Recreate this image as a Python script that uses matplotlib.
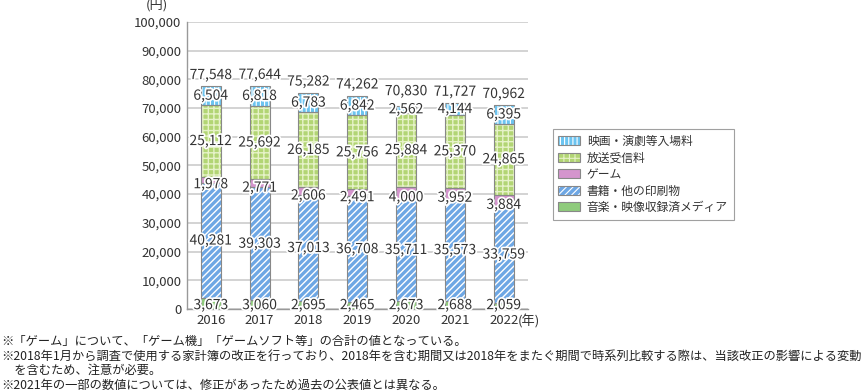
import numpy as np
import matplotlib
matplotlib.use("Agg")
import matplotlib.pyplot as plt
import matplotlib.patheffects as pe
from matplotlib.patches import Patch
from matplotlib.legend_handler import HandlerTuple

plt.rcParams['font.family'] = ['Noto Sans CJK JP', 'DejaVu Sans']

years = ['2016', '2017', '2018', '2019', '2020', '2021', '2022']
music = [3673, 3060, 2695, 2465, 2673, 2688, 2059]
books = [40281, 39303, 37013, 36708, 35711, 35573, 33759]
game = [1978, 2771, 2606, 2491, 4000, 3952, 3884]
broadcast = [25112, 25692, 26185, 25756, 25884, 25370, 24865]
movie = [6504, 6818, 6783, 6842, 2562, 4144, 6395]
totals = [77548, 77644, 75282, 74262, 70830, 71727, 70962]

names = ['音楽・映像収録済メディア', '書籍・他の印刷物', 'ゲーム', '放送受信料', '映画・演劇等入場料']
series = [music, books, game, broadcast, movie]
# face colour, hatch colour, hatch, hatch linewidth
styles = [('#8fcb7c', '#8fcb7c', None, 1.0),
          ('#6ea7e4', '#ffffff', '/////', 1.0),
          ('#d495cd', '#d495cd', None, 1.0),
          ('#b2d574', '#e6f2c8', '+++', 1.0),
          ('#6cc4f0', '#ffffff', '||||', 0.8)]

fig = plt.figure(figsize=(8.65, 3.92), dpi=100)
ax = fig.add_axes([0.216, 0.212, 0.394, 0.732])

x = np.arange(len(years))
w = 0.41
bottom = np.zeros(len(years))
handles = []
for name, vals, (fc, hc, hatch, hlw) in zip(names, series, styles):
    plt.rcParams['hatch.linewidth'] = hlw
    vals = np.array(vals)
    ax.bar(x, vals, w, bottom=bottom, color=fc, edgecolor=hc, hatch=hatch,
           linewidth=0, zorder=3)
    ax.bar(x, vals, w, bottom=bottom, fill=False, edgecolor='#888888',
           linewidth=0.8, zorder=4)
    handles.append((Patch(facecolor=fc, edgecolor=hc, hatch=hatch, linewidth=0),
                    Patch(fill=False, edgecolor='#888888', linewidth=0.8)))
    bottom = bottom + vals

stroke = [pe.withStroke(linewidth=2.5, foreground='white')]

# segment labels
bottom = np.zeros(len(years))
for k, vals in enumerate(series):
    for i, v in enumerate(vals):
        y = bottom[i] + v / 2
        if k == 0:
            y = 1300
        if k == 2:
            y = bottom[i] + v / 2 - 1500
        ax.text(x[i], y, f'{v:,}', ha='center', va='center', fontsize=10,
                color='#333333', path_effects=stroke, zorder=6)
    bottom = bottom + np.array(vals)

for i, t in enumerate(totals):
    off = 2600 if movie[i] < 3000 else 1500
    ax.text(x[i], t + off, f'{t:,}', ha='center', va='bottom', fontsize=10,
            color='#333333', path_effects=stroke, zorder=6)

ax.set_ylim(0, 100000)
ax.set_xlim(-0.49, 6.49)
ax.set_yticks(np.arange(0, 100001, 10000))
ax.set_yticklabels([f'{v:,}' for v in range(0, 100001, 10000)], fontsize=9.5, color='#333333')
ax.set_xticks(x)
ax.set_xticklabels(years, fontsize=9.5, color='#333333')
ax.tick_params(length=0, pad=4)
ax.yaxis.grid(True, color='#d0d0d0', linewidth=1.3, zorder=0)
ax.set_axisbelow(True)
for s in ['top', 'right']:
    ax.spines[s].set_visible(False)
for s in ['left', 'bottom']:
    ax.spines[s].set_color('#999999')
    ax.spines[s].set_linewidth(1.0)

ax.text(-0.088, 1.035, '(円)', transform=ax.transAxes, ha='center', va='bottom', fontsize=9.5, color='#333333')
ax.annotate('(年)', xy=(6.28, 0), xycoords=('data', 'axes fraction'), xytext=(0, -4),
            textcoords='offset points', ha='left', va='top', fontsize=9.5, color='#333333')

leg_handles = handles[::-1]
leg = fig.legend(leg_handles, names[::-1], handler_map={tuple: HandlerTuple(ndivide=1, pad=0)},
                 loc='upper left', bbox_to_anchor=(0.632, 0.686), fontsize=8.5,
                 frameon=True, fancybox=False, edgecolor='#888888',
                 handlelength=1.8, handleheight=0.8, handletextpad=0.6,
                 labelspacing=0.3, borderpad=0.5)
leg.get_frame().set_linewidth(0.8)
for t in leg.get_texts():
    t.set_color('#333333')

notes = ['※「ゲーム」について、「ゲーム機」「ゲームソフト等」の合計の値となっている。',
         '※2018年1月から調査で使用する家計簿の改正を行っており、2018年を含む期間又は2018年をまたぐ期間で時系列比較する際は、当該改正の影響による変動',
         '　を含むため、注意が必要。',
         '※2021年の一部の数値については、修正があったため過去の公表値とは異なる。']
ys = [341, 356, 370, 385]
for n, yy in zip(notes, ys):
    fig.text(0.002, 1 - yy / 392, n, ha='left', va='center', fontsize=8.8, color='#222222')

fig.savefig('out.png', dpi=100)
